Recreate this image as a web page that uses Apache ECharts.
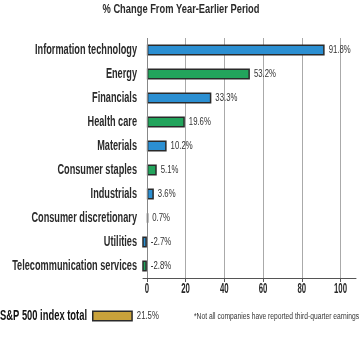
<!DOCTYPE html>
<html><head><meta charset="utf-8">
<script src="https://cdn.jsdelivr.net/npm/echarts@6/dist/echarts.min.js"></script>
<style>html,body{margin:0;padding:0;background:#fff}#c{width:360px;height:337px}</style>
</head><body><div id="c"></div>
<script>
const categories = ['Information technology','Energy','Financials','Health care','Materials','Consumer staples','Industrials','Consumer discretionary','Utilities','Telecommunication services'];
const values = [91.8, 53.2, 33.3, 19.6, 10.2, 5.1, 3.6, 0.7, -2.7, -2.8];
const barColors = ['#2b8fd2','#22a45c','#2b8fd2','#22a45c','#2b8fd2','#22a45c','#2b8fd2','#22a45c','#2b8fd2','#22a45c'];
const totalLabel = ['S&P 500 index total'];
const totalValue = [21.5];
const xTicks = [0, 20, 40, 60, 80, 100];
const title = '% Change From Year-Earlier Period';
const footnote = '*Not all companies have reported third-quarter earnings';

const FAMILY = '"Liberation Sans", Arial, sans-serif';
const SZ = {cat:14, title:13.5, tot:14.5, note:8.5, val:10.5, tick:15};
const WT = {cat:'bold', title:'bold', tot:'bold', note:'normal', val:'normal', tick:'bold'};
const ctx = document.createElement('canvas').getContext('2d');
function k(text, key, target){
  ctx.font = WT[key] + ' ' + SZ[key] + 'px ' + FAMILY;
  return target / ctx.measureText(text).width;
}
const K = {
  cat: k('Information technology','cat',102),
  title: k(title,'title',157),
  tot: k(totalLabel[0],'tot',87),
  note: k(footnote,'note',165),
  val: k('91.8%','val',22),
  tick: k('100','tick',13)
};

const chart = echarts.init(document.getElementById('c'), null, {renderer:'canvas'});
chart.setOption({
  animation:false,
  textStyle:{fontFamily:FAMILY},
  title:[{text:title,left:181,textAlign:'center',top:2,padding:0,textStyle:{fontFamily:FAMILY,fontSize:SZ.title,fontWeight:WT.title,color:'#2a2a2a'}},
         {text:footnote,left:194,top:312,padding:0,textStyle:{fontFamily:FAMILY,fontSize:SZ.note,fontWeight:WT.note,color:'#333'}}],
  grid:[{left:143,right:4,top:38,bottom:59,containLabel:false,outerBoundsMode:'none'},
        {left:92,width:205,top:310,height:12,outerBoundsMode:'none'}],
  xAxis:[{type:'value',gridIndex:0,min:-2,max:108,interval:20,
          axisLine:{show:true,onZero:false,lineStyle:{color:'#555',width:1}},
          axisTick:{show:true,length:4,lineStyle:{color:'#555'},customValues:xTicks},
          splitLine:{show:true,lineStyle:{color:'#aaa',width:1}},
          axisLabel:{fontFamily:FAMILY,fontSize:SZ.tick,fontWeight:WT.tick,color:'#2a2a2a',margin:3,customValues:xTicks}},
         {type:'value',gridIndex:1,min:0,max:108,show:false}],
  yAxis:[{type:'category',gridIndex:0,data:categories,inverse:true,
          axisLine:{show:false},axisTick:{show:false},
          axisLabel:{fontFamily:FAMILY,fontSize:SZ.cat,fontWeight:WT.cat,color:'#2a2a2a',margin:6}},
         {type:'category',gridIndex:1,data:totalLabel,
          axisLine:{show:false},axisTick:{show:false},
          axisLabel:{fontFamily:FAMILY,fontSize:SZ.tot,fontWeight:WT.tot,color:'#111',margin:5}}],
  series:[{type:'bar',xAxisIndex:0,yAxisIndex:0,barWidth:11,
           data:values.map((v,i)=>({value:v,itemStyle:{color:barColors[i]}})),
           itemStyle:{borderColor:'#2a2a2a',borderWidth:1.5},
           label:{show:true,position:'right',distance:4,fontFamily:FAMILY,fontSize:SZ.val,fontWeight:WT.val,color:'#333',formatter:p=>p.value+'%'},
           markLine:{silent:true,symbol:'none',label:{show:false},lineStyle:{color:'#888',type:'solid',width:1},data:[{xAxis:0}]}},
          {type:'bar',xAxisIndex:1,yAxisIndex:1,barWidth:11,data:totalValue,
           itemStyle:{color:'#c9a23b',borderColor:'#2a2a2a',borderWidth:1.5},
           label:{show:true,position:'right',distance:4,fontFamily:FAMILY,fontSize:SZ.val,fontWeight:WT.val,color:'#333',formatter:p=>p.value+'%'}}]
});

// condense text horizontally (the reference uses a condensed typeface)
function kFor(s){
  if (categories.includes(s)) return K.cat;
  if (s === title) return K.title;
  if (s === totalLabel[0]) return K.tot;
  if (s === footnote) return K.note;
  if (/%$/.test(s)) return K.val;
  if (/^-?\d+$/.test(s)) return K.tick;
  return 0;
}
const zr = chart.getZr();
zr.storage.getDisplayList(true).forEach(d => {
  const t = d.parent;
  if (!t || t.type !== 'text' || d.type !== 'tspan') return;
  const kk = kFor(String(t.style && t.style.text));
  if (kk) { d.scaleX = kk; d.originX = 0; d.originY = 0; d.markRedraw(); }
});
zr.refreshImmediately();
</script></body></html>
